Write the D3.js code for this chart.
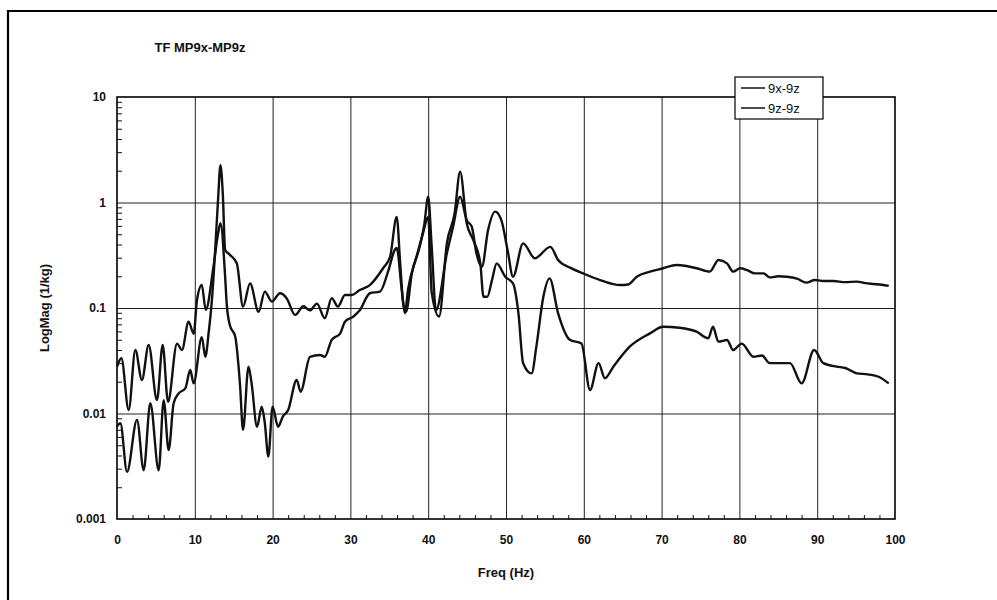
<!DOCTYPE html>
<html>
<head>
<meta charset="utf-8">
<script src="https://cdn.jsdelivr.net/npm/d3@7"></script>
<style>
  html, body { margin: 0; padding: 0; background: #fff; }
  svg { display: block; }
  text { font-family: "Liberation Sans", Arial, sans-serif; fill: #111; }
</style>
</head>
<body>
<svg id="chart" width="997" height="600"></svg>
<script>
// ---- data -------------------------------------------------------------
const seriesNames = ["9x-9z", "9z-9z"];
const xTickLabels = ["0", "10", "20", "30", "40", "50", "60", "70", "80", "90", "100"];
const yTickValues = [0.001, 0.01, 0.1, 1, 10];
const yTickLabels = ["0.001", "0.01", "0.1", "1", "10"];

// 9x-9z : frequency (Hz) and magnitude (1/kg)
const freqA = [0, 0.56, 1.5, 2.36, 3.2, 4.07, 5.14, 5.87, 6.56, 7.71, 8.35, 9.2, 9.86, 10.28, 10.9, 11.4,
  12.4, 13.0, 13.3, 13.9, 14.1, 14.5, 15.2, 15.8, 16.2, 16.9, 17.3, 18.0, 18.6, 19.0, 19.45, 20.0, 20.7,
  21.3, 22.0, 23.1, 23.6, 24.8, 26.1, 26.7, 27.6, 28.7, 29.3, 30.4, 31.2, 32.5, 33.8, 34.9, 35.7, 35.95,
  36.6, 37.0, 37.4, 38.5, 39.3, 40.0, 40.45, 41.4, 42.4, 43.4, 44.1, 44.95, 45.8, 46.7, 47.1, 47.6, 48.2,
  48.8, 49.9, 50.9, 51.6, 52.2, 53.3, 53.9, 54.8, 55.6, 56.7, 58.2, 59.7, 60.8, 61.9, 62.7, 63.8, 65.9,
  68.5, 70.2, 72.3, 74.5, 76.0, 76.6, 77.3, 78.4, 79.2, 80.3, 81.8, 82.9, 83.9, 85.2, 86.5, 88.0, 89.6,
  90.8, 92.5, 93.6, 95.1, 96.5, 97.9, 99.2];
const magA = [0.0278, 0.0334, 0.0108, 0.040, 0.0208, 0.0446, 0.0134, 0.0446, 0.0129, 0.046, 0.040, 0.074,
  0.057, 0.119, 0.165, 0.096, 0.247, 0.51, 0.635, 0.198, 0.11, 0.069, 0.0535, 0.0193, 0.007, 0.0278,
  0.0193, 0.0075, 0.0116, 0.0081, 0.0039, 0.0116, 0.0075, 0.0093, 0.0108, 0.0208, 0.0161, 0.0345,
  0.0359, 0.0345, 0.0498, 0.0575, 0.074, 0.083, 0.095, 0.138, 0.143, 0.229, 0.355, 0.37, 0.148, 0.089,
  0.148, 0.306, 0.5, 0.73, 0.14, 0.083, 0.41, 0.79, 1.96, 0.635, 0.44, 0.265, 0.128, 0.128, 0.184,
  0.265, 0.198, 0.171, 0.089, 0.030, 0.024, 0.043, 0.128, 0.191, 0.089, 0.05, 0.046, 0.0167, 0.030,
  0.0216, 0.0278, 0.043, 0.0575, 0.0665, 0.065, 0.0596, 0.0516, 0.0665, 0.048, 0.0498, 0.040, 0.046,
  0.0345, 0.0355, 0.030, 0.030, 0.030, 0.0193, 0.040, 0.030, 0.0278, 0.027, 0.024, 0.0235, 0.0223, 0.0193];

// 9z-9z : frequency (Hz) and magnitude (1/kg)
const freqB = [0, 0.43, 1.29, 2.57, 3.43, 4.28, 5.36, 6.0, 6.64, 7.28, 7.93, 8.78, 9.42, 9.85, 10.9, 11.35,
  11.8, 12.2, 12.7, 13.0, 13.3, 13.6, 13.9, 14.5, 15.4, 16.2, 17.1, 18.2, 19.0, 19.9, 20.95, 21.8, 22.9,
  23.95, 24.8, 25.7, 26.7, 27.6, 28.4, 29.3, 30.2, 31.2, 32.5, 34.2, 35.1, 35.95, 36.4, 36.8, 37.15, 37.9,
  38.9, 39.5, 40.0, 40.45, 41.0, 42.4, 43.2, 44.1, 44.95, 45.6, 46.2, 46.9, 47.7, 48.6, 49.4, 50.2, 50.9,
  52.2, 53.7, 55.7, 56.7, 58.3, 59.9, 62.1, 64.65, 65.7, 66.8, 68.5, 70.2, 71.9, 73.2, 74.5, 76.2, 77.3,
  78.4, 79.2, 80.1, 81.0, 82.0, 83.1, 83.9, 85.0, 86.1, 87.4, 88.6, 89.7, 91.0, 92.1, 93.6, 95.1, 96.2,
  97.2, 98.3, 99.2];
const magB = [0.0075, 0.0081, 0.0028, 0.0087, 0.0029, 0.0125, 0.0029, 0.0134, 0.0045, 0.0125, 0.0155,
  0.0173, 0.0258, 0.0193, 0.053, 0.0345, 0.06, 0.119, 0.45, 1.1, 2.26, 1.2, 0.355, 0.32, 0.265, 0.103,
  0.171, 0.092, 0.143, 0.115, 0.138, 0.124, 0.086, 0.104, 0.095, 0.11, 0.08, 0.124, 0.103, 0.133, 0.133,
  0.148, 0.165, 0.238, 0.306, 0.73, 0.265, 0.11, 0.092, 0.213, 0.38, 0.62, 1.135, 0.38, 0.095, 0.33,
  0.59, 1.135, 0.68, 0.59, 0.33, 0.246, 0.55, 0.82, 0.68, 0.355, 0.198, 0.41, 0.296, 0.38, 0.285, 0.24,
  0.213, 0.184, 0.165, 0.167, 0.198, 0.221, 0.238, 0.256, 0.25, 0.238, 0.221, 0.285, 0.265, 0.221, 0.238,
  0.228, 0.213, 0.213, 0.195, 0.2, 0.198, 0.19, 0.174, 0.184, 0.18, 0.18, 0.176, 0.178, 0.172, 0.169,
  0.166, 0.162];

// ---- layout -----------------------------------------------------------
const svg = d3.select("#chart");
const x = d3.scaleLinear().domain([0, 100]).range([117, 895]);
const y = d3.scaleLog().domain([0.001, 10]).range([519, 97]);
const [x0, x1] = x.range();
const [yb, yt] = y.range();

// page frame
svg.append("path")
  .attr("d", `M8,600 L8,11 L997,11`)
  .attr("fill", "none").attr("stroke", "#000").attr("stroke-width", 2.2);

// title
svg.append("text")
  .attr("x", 200).attr("y", 52)
  .attr("text-anchor", "middle")
  .attr("font-size", 13).attr("font-weight", "bold")
  .text("TF MP9x-MP9z");

// grid lines
const grid = svg.append("g").attr("stroke", "#333").attr("stroke-width", 1);
grid.append("g")
  .attr("transform", `translate(0,${yb})`)
  .call(d3.axisBottom(x).tickValues(d3.range(10, 100, 10)).tickSize(-(yb - yt)).tickFormat(""))
  .call(g => g.select(".domain").remove())
  .call(g => g.selectAll("line").attr("stroke", "#222"));
grid.append("g")
  .attr("transform", `translate(${x0},0)`)
  .call(d3.axisLeft(y).tickValues([0.01, 0.1, 1]).tickSize(-(x1 - x0)).tickFormat(""))
  .call(g => g.select(".domain").remove())
  .call(g => g.selectAll("line").attr("stroke", "#222"));

// minor ticks inside the plot
const yMinor = [];
[0.001, 0.01, 0.1, 1].forEach(d => { for (let k = 2; k <= 9; k++) yMinor.push(d * k); });
svg.append("g")
  .attr("transform", `translate(${x0},0)`)
  .call(d3.axisRight(y).tickValues(yMinor).tickSize(5).tickFormat(""))
  .call(g => g.select(".domain").remove())
  .call(g => g.selectAll("line").attr("stroke", "#111"));
const xMinor = d3.range(0, 100, 2).filter(v => v % 10 !== 0);
svg.append("g")
  .attr("transform", `translate(0,${yb})`)
  .call(d3.axisTop(x).tickValues(xMinor).tickSize(4).tickFormat(""))
  .call(g => g.select(".domain").remove())
  .call(g => g.selectAll("line").attr("stroke", "#111"));

// plot border
svg.append("rect")
  .attr("x", x0).attr("y", yt).attr("width", x1 - x0).attr("height", yb - yt)
  .attr("fill", "none").attr("stroke", "#000").attr("stroke-width", 1.6);

// tick labels
svg.append("g")
  .attr("transform", `translate(0,${yb})`)
  .call(d3.axisBottom(x).tickValues(d3.range(0, 101, 10)).tickSize(0).tickPadding(16)
    .tickFormat((d, i) => xTickLabels[i]))
  .call(g => g.select(".domain").remove())
  .call(g => g.selectAll("text").attr("font-size", 12).attr("font-weight", "bold")
    .attr("font-family", "'Liberation Sans', Arial, sans-serif").attr("fill", "#111"));
svg.append("g")
  .attr("transform", `translate(${x0},0)`)
  .call(d3.axisLeft(y).tickValues(yTickValues).tickSize(0).tickPadding(11)
    .tickFormat((d, i) => yTickLabels[i]))
  .call(g => g.select(".domain").remove())
  .call(g => g.selectAll("text").attr("font-size", 12).attr("font-weight", "bold")
    .attr("font-family", "'Liberation Sans', Arial, sans-serif").attr("fill", "#111"));

// axis titles
svg.append("text")
  .attr("x", (x0 + x1) / 2).attr("y", 577)
  .attr("text-anchor", "middle")
  .attr("font-size", 13).attr("font-weight", "bold")
  .text("Freq (Hz)");
svg.append("text")
  .attr("transform", `translate(49,${(yt + yb) / 2}) rotate(-90)`)
  .attr("text-anchor", "middle")
  .attr("font-size", 13).attr("font-weight", "bold")
  .text("LogMag (1/kg)");

// curves
const line = d3.line().x(d => x(d[0])).y(d => y(d[1])).curve(d3.curveMonotoneX);
const curves = [d3.zip(freqA, magA), d3.zip(freqB, magB)];
svg.append("g").selectAll("path").data(curves).join("path")
  .attr("d", line)
  .attr("fill", "none").attr("stroke", "#111")
  .attr("stroke-width", 2.4).attr("stroke-linejoin", "round");

// legend
const lg = svg.append("g").attr("transform", "translate(735,77)");
lg.append("rect").attr("width", 88).attr("height", 42)
  .attr("fill", "#fff").attr("stroke", "#000").attr("stroke-width", 1.2);
seriesNames.forEach((name, i) => {
  const row = lg.append("g").attr("transform", `translate(0,${11 + i * 20})`);
  row.append("line").attr("x1", 6).attr("x2", 30).attr("y1", 0).attr("y2", 0)
    .attr("stroke", "#111").attr("stroke-width", 1.5);
  row.append("text").attr("x", 33).attr("y", 5).attr("font-size", 13).text(name);
});
</script>
</body>
</html>
